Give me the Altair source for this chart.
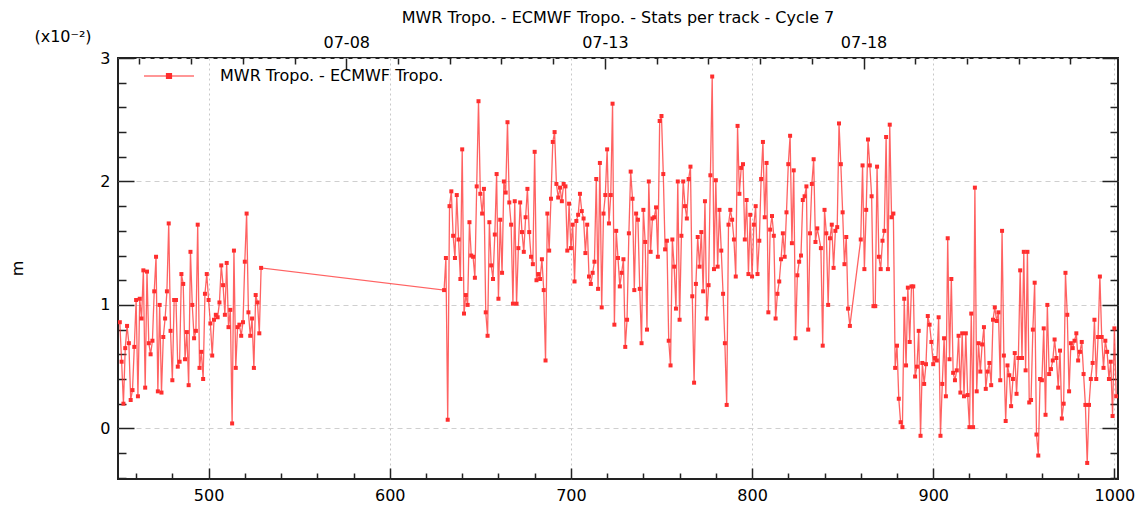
import altair as alt
import pandas as pd

FONT = "DejaVu Sans"
TITLE = "MWR Tropo. - ECMWF Tropo. - Stats per track - Cycle 7"
SERIES = "MWR Tropo. - ECMWF Tropo."
UNIT_LABEL = "(x10\u207b\u00b2)"
Y_TITLE = "m"

# track ranges (inclusive) covered by the data
track_ranges = [(451, 529), (630, 836), (838, 854), (860, 1001)]

values_451_529 = [
    0.86, 0.54, 0.20, 0.65, 0.83, 0.69, 0.23, 0.31, 0.66, 1.04,
    0.26, 1.05, 0.89, 1.28, 0.33, 1.27, 0.69, 0.60, 0.71, 1.11,
    1.39, 0.30, 1.00, 0.29, 0.74, 0.89, 1.11, 1.66, 0.79, 0.39,
    1.04, 1.04, 0.50, 0.54, 1.25, 1.17, 0.56, 0.78, 0.35, 1.43,
    1.00, 0.73, 0.79, 1.65, 0.49, 0.62, 0.40, 1.09, 1.25, 1.04,
    0.85, 0.59, 0.88, 0.92, 0.90, 1.02, 1.32, 1.16, 0.92, 1.34,
    0.82, 0.96, 0.04, 1.44, 0.49, 0.82, 0.84, 0.75, 0.86, 1.35,
    1.74, 0.94, 0.75, 0.89, 0.49, 1.08, 1.02, 0.77, 1.30,
]
values_630_715 = [
    1.12, 1.38, 0.07, 1.80, 1.92, 1.56, 1.38, 1.89, 1.53, 1.21,
    2.26, 0.93, 1.08, 1.00, 1.67, 1.40, 1.39, 1.22, 1.96, 2.65,
    1.90, 1.74, 1.94, 0.94, 0.75, 1.67, 1.32, 1.21, 1.57, 2.06,
    1.05, 1.69, 1.26, 2.00, 1.91, 2.48, 1.83, 1.65, 1.01, 1.84,
    1.01, 1.46, 1.83, 1.59, 1.43, 1.71, 1.94, 1.59, 1.39, 1.33,
    2.24, 1.20, 1.25, 1.21, 1.37, 1.12, 0.55, 1.74, 1.44, 1.86,
    2.32, 2.40, 1.98, 1.87, 1.95, 1.84, 1.98, 1.96, 1.44, 1.82,
    1.46, 1.65, 1.19, 1.68, 1.73, 1.90, 1.76, 1.70, 1.42, 1.65,
    1.23, 1.17, 1.26, 1.35, 2.02, 1.13,
]
values_716_803 = [
    2.15, 0.98, 1.74, 1.89, 2.26, 1.66, 1.89, 2.63, 0.84, 1.60,
    1.38, 1.15, 1.26, 1.37, 0.66, 0.88, 1.58, 2.08, 1.86, 1.12,
    1.74, 1.69, 1.13, 0.69, 1.77, 1.51, 0.80, 2.00, 1.43, 1.70,
    1.71, 1.79, 1.39, 2.49, 2.53, 2.06, 1.45, 1.52, 0.71, 0.51,
    1.53, 1.31, 0.97, 2.00, 0.88, 1.56, 2.00, 1.80, 1.70, 2.02,
    2.12, 1.07, 0.37, 1.17, 1.55, 1.31, 1.59, 1.11, 1.84, 0.89,
    1.16, 2.05, 2.85, 1.29, 2.01, 1.31, 1.77, 1.44, 1.09, 0.69,
    0.19, 1.65, 1.77, 1.69, 1.53, 1.23, 2.45, 1.90, 2.11, 2.14,
    1.53, 1.85, 1.25, 1.73, 1.23, 1.65, 1.80, 1.25,
]
values_804_836 = [
    1.52, 2.02, 2.32, 1.71, 2.15, 0.94, 1.61, 1.72, 1.56, 0.89,
    1.09, 1.19, 1.37, 1.58, 1.39, 1.75, 2.14, 2.37, 1.50, 2.09,
    0.73, 1.24, 1.35, 1.40, 1.85, 1.88, 1.96, 0.80, 1.58, 1.98,
    2.18, 1.51, 1.62,
]
values_838_854 = [
    1.46, 0.67, 1.77, 1.58, 1.00, 1.54, 1.65, 1.30, 1.60, 1.63,
    2.47, 2.14, 1.75, 1.33, 1.55, 0.97, 0.83,
]
values_860_892 = [
    1.53, 2.13, 1.29, 1.77, 2.34, 2.13, 1.88, 0.99, 0.99, 2.12,
    1.39, 1.29, 1.52, 1.60, 2.36, 1.29, 2.46, 1.71, 1.74, 0.49,
    0.67, 0.24, 0.05, 0.01, 1.05, 0.51, 1.14, 0.70, 1.15, 1.15,
    0.42, 0.50, 0.79,
]
values_893_1001 = [
    -0.06, 0.53, 0.36, 0.52, 0.91, 0.84, 0.70, 0.52, 0.57, 0.55,
    0.90, -0.06, 0.36, 0.73, 0.26, 1.54, 0.56, 1.21, 0.45, 0.39,
    0.47, 0.75, 0.29, 0.77, 0.26, 0.77, 0.27, 0.01, 0.93, 0.01,
    1.95, 0.30, 0.69, 0.46, 0.68, 0.82, 0.32, 0.46, 0.53, 0.35,
    0.88, 0.98, 0.87, 0.94, 0.39, 1.60, 0.59, 0.06, 0.51, 0.43,
    0.18, 0.40, 0.61, 0.28, 0.57, 1.28, 0.57, 1.43, 0.47, 1.43,
    0.21, 0.23, 0.80, 1.18, -0.05, -0.22, 0.40, 0.39, 0.81, 0.11,
    1.00, 0.44, 0.48, 0.55, 0.72, 0.57, 0.33, 0.63, 0.08, 0.20,
    1.26, 0.92, 0.30, 0.69, 0.65, 0.71, 0.77, 0.55, 0.62, 0.70,
    0.44, 0.19, -0.28, 0.19, 0.40, 0.53, 0.88, 0.40, 0.74, 1.23,
    0.74, 0.49, 0.71, 0.62, 0.40, 0.54, 0.10, 0.81, 0.26,
]

# axis ticks / labels
x_major = [500, 600, 700, 800, 900, 1000]
x_minor = [460, 480, 520, 540, 560, 580, 620, 640, 660, 680, 720, 740, 760, 780,
           820, 840, 860, 880, 920, 940, 960, 980]
y_major = [0, 1, 2, 3]
y_minor = [-0.4, -0.2, 0.2, 0.4, 0.6, 0.8, 1.2, 1.4, 1.6, 1.8, 2.2, 2.4, 2.6, 2.8]
day_major = [0, 5, 10]
day_labels = ["07-08", "07-13", "07-18"]
day_minor = [-4, -3, -2, -1, 1, 2, 3, 4, 6, 7, 8, 9, 11, 12, 13, 14]

X_DOMAIN = [450, 1002]
Y_DOMAIN = [-0.41, 3]
TRACK_AT_DAY0 = 576.0
TRACKS_PER_DAY = 28.555
DAY_DOMAIN = [(X_DOMAIN[0] - TRACK_AT_DAY0) / TRACKS_PER_DAY,
              (X_DOMAIN[1] - TRACK_AT_DAY0) / TRACKS_PER_DAY]

tracks = []
for a, b in track_ranges:
    tracks.extend(range(a, b + 1))
values = (values_451_529 + values_630_715 + values_716_803 + values_804_836
          + values_838_854 + values_860_892 + values_893_1001)
assert len(tracks) == len(values), (len(tracks), len(values))

df = pd.DataFrame({"track": tracks, "value": values, "series": SERIES})
df["day"] = (df["track"] - TRACK_AT_DAY0) / TRACKS_PER_DAY

RED = "#ff2e2e"
TICK = "#222222"

xs = alt.Scale(domain=X_DOMAIN, nice=False, zero=False)
ys = alt.Scale(domain=Y_DOMAIN, nice=False, zero=False)
ds = alt.Scale(domain=DAY_DOMAIN, nice=False, zero=False)


def ax(**kw):
    common = dict(domain=False, labelFont=FONT, labelFontSize=16, labelColor="black",
                  tickColor=TICK, tickWidth=1.5, title=None, labelFlush=False,
                  labelOverlap=False, labelBound=False, grid=False)
    common.update(kw)
    return alt.Axis(**common)


label_expr = " : ".join(
    f"datum.value == {v} ? '{t}'" for v, t in zip(day_major, day_labels)) + " : ''"

legend_path = "M-1,0H1M-0.1,-0.1H0.1V0.1H-0.1Z"

data_layer = alt.Chart(df).mark_line(
    strokeWidth=1.3, opacity=0.75, clip=True,
    point=alt.OverlayMarkDef(shape="square", size=16, filled=True, opacity=1, color=RED),
).encode(
    x=alt.X("track:Q", scale=xs, axis=ax(
        orient="bottom", values=x_major, grid=True, gridDash=[2, 3], gridColor="#c8c8c8",
        gridWidth=1, tickSize=alt.ExprRef("-11"), labelPadding=19, format="d")),
    y=alt.Y("value:Q", scale=ys, axis=ax(
        orient="left", values=y_major, grid=True, gridDash=[5, 4], gridColor="#cfcfcf",
        gridWidth=1, tickSize=alt.ExprRef("-16"), labelPadding=24, format="d",
        title=Y_TITLE, titleFont=FONT, titleFontSize=16, titleFontWeight="normal",
        titleColor="black", titleX=-101, titleY=210, titleAngle=270,
        titleAlign="center", titleBaseline="middle")),
    color=alt.Color("series:N", scale=alt.Scale(range=[RED]), legend=alt.Legend(
        title=None, orient="none", legendX=25, legendY=-8, padding=0,
        symbolType=legend_path, symbolSize=2500, symbolStrokeWidth=1.2,
        symbolFillColor=RED, symbolStrokeColor=RED, symbolOpacity=1,
        labelFont=FONT, labelFontSize=16, labelColor="black", labelOffset=25,
        labelLimit=0)),
)

minor_layer = alt.Chart(df).mark_point(opacity=0, size=1).encode(
    x=alt.X("track:Q", scale=xs, axis=ax(
        orient="bottom", values=x_minor, labels=False, tickSize=alt.ExprRef("-6"))),
    y=alt.Y("value:Q", scale=ys, axis=ax(
        orient="left", values=y_minor, labels=False, tickSize=alt.ExprRef("-8"))),
)

top_right_major = alt.Chart(df).mark_point(opacity=0, size=1).encode(
    x=alt.X("day:Q", scale=ds, axis=ax(
        orient="top", values=day_major, labelExpr=label_expr,
        tickSize=alt.ExprRef("-11"), labelPadding=19)),
    y=alt.Y("value:Q", scale=ys, axis=ax(
        orient="right", values=y_major, labels=False, tickSize=alt.ExprRef("-16"))),
)

top_right_minor = alt.Chart(df).mark_point(opacity=0, size=1).encode(
    x=alt.X("day:Q", scale=ds, axis=ax(
        orient="top", values=day_minor, labels=False, tickSize=alt.ExprRef("-6"))),
    y=alt.Y("value:Q", scale=ys, axis=ax(
        orient="right", values=y_minor, labels=False, tickSize=alt.ExprRef("-8"))),
)

unit_text = alt.Chart(pd.DataFrame({"t": [UNIT_LABEL]})).mark_text(
    font=FONT, fontSize=16, color="black", align="center", baseline="middle"
).encode(text="t:N", x=alt.value(-55), y=alt.value(-21))

chart = alt.layer(
    data_layer, minor_layer, top_right_major, top_right_minor, unit_text
).resolve_scale(
    x="independent", y="independent"
).properties(
    width=1000, height=421,
    padding={"left": 110, "top": 50, "right": 20, "bottom": 30},
    autosize=alt.AutoSizeParams(type="none"),
    title=alt.TitleParams(TITLE, font=FONT, fontSize=16, fontWeight="normal",
                          anchor="middle", color="black", offset=3),
).configure_view(
    stroke="#222222", strokeWidth=2
)

chart.save("out.html", embed_options={"renderer": "svg", "actions": False})
